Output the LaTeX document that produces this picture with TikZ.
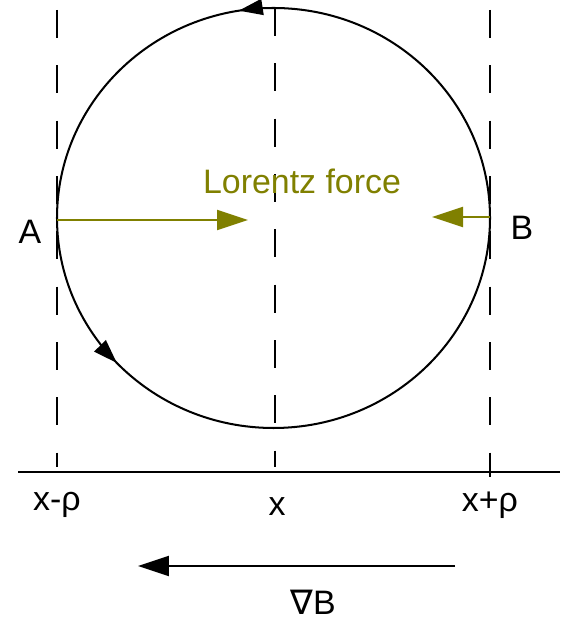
\documentclass[tikz,border=0pt]{standalone}
\usepackage{fontspec}
\setmainfont{Liberation Sans}
\newfontfamily\symfont{DejaVu Sans}
\usetikzlibrary{arrows.meta,decorations.markings}
\definecolor{lorentz}{RGB}{128,128,0}
\begin{document}
\begin{tikzpicture}[x=0.02cm, y=0.02cm, >={Triangle[length=0.62cm,width=0.4cm]},
        every node/.style={font=\fontsize{19.3}{23}\selectfont},
        guide/.style={dash pattern=on 15.9pt off 15.6pt, line width=0.6pt},
        force/.style={->, draw=lorentz, line width=1.3pt, fill=lorentz}]
    \useasboundingbox (0,0) rectangle (562,621);
    % gyration orbit
    \draw[line width=1.15pt, postaction={decorate}, decoration={markings,
            mark=at position 0.276 with {\arrow{Triangle[length=0.48cm,width=0.32cm]}},
            mark=at position 0.62 with {\arrow{Triangle[length=0.48cm,width=0.32cm]}}}]
        (273.5,403) ellipse [x radius=216.5, y radius=210];
    % guide lines
    \coordinate (lt) at (57,611);
    \coordinate (ct) at (275,613);
    \coordinate (rt) at (490,611);
    \coordinate (lb) at (57,154);
    \coordinate (cb) at (275,154);
    \coordinate (rb) at (490,144);
    \draw[guide] (lt) -- (lb);
    \draw[guide] (ct) -- (cb);
    \draw[guide] (rt) -- (rb);
    % axis
    \coordinate (ax0) at (18,149);
    \coordinate (ax1) at (560,149);
    \draw[line width=0.8pt] (ax0) -- (ax1);
    \node (xm) at (57,116) {x-ρ};
    \node (x) at (277,114) {x};
    \node (xp) at (490,116) {x+ρ};
    % forces
    \node (A) at (30,389) {A};
    \node (B) at (522,393) {B};
    \coordinate (Aedge) at (57,401);
    \coordinate (Atip) at (248,401);
    \coordinate (Bedge) at (490,404);
    \coordinate (Btip) at (432,404);
    \draw[force] (Aedge) -- (Atip);
    \draw[force] (Bedge) -- (Btip);
    \node[text=lorentz] (lf) at (302,440) {Lorentz force};
    % gradient
    \coordinate (g0) at (455,55);
    \coordinate (g1) at (138,55);
    \draw[->, line width=1.3pt] (g0) -- (g1);
    \node (gradB) at (313,19) {{\symfont ∇}B};
\end{tikzpicture}
\end{document}
